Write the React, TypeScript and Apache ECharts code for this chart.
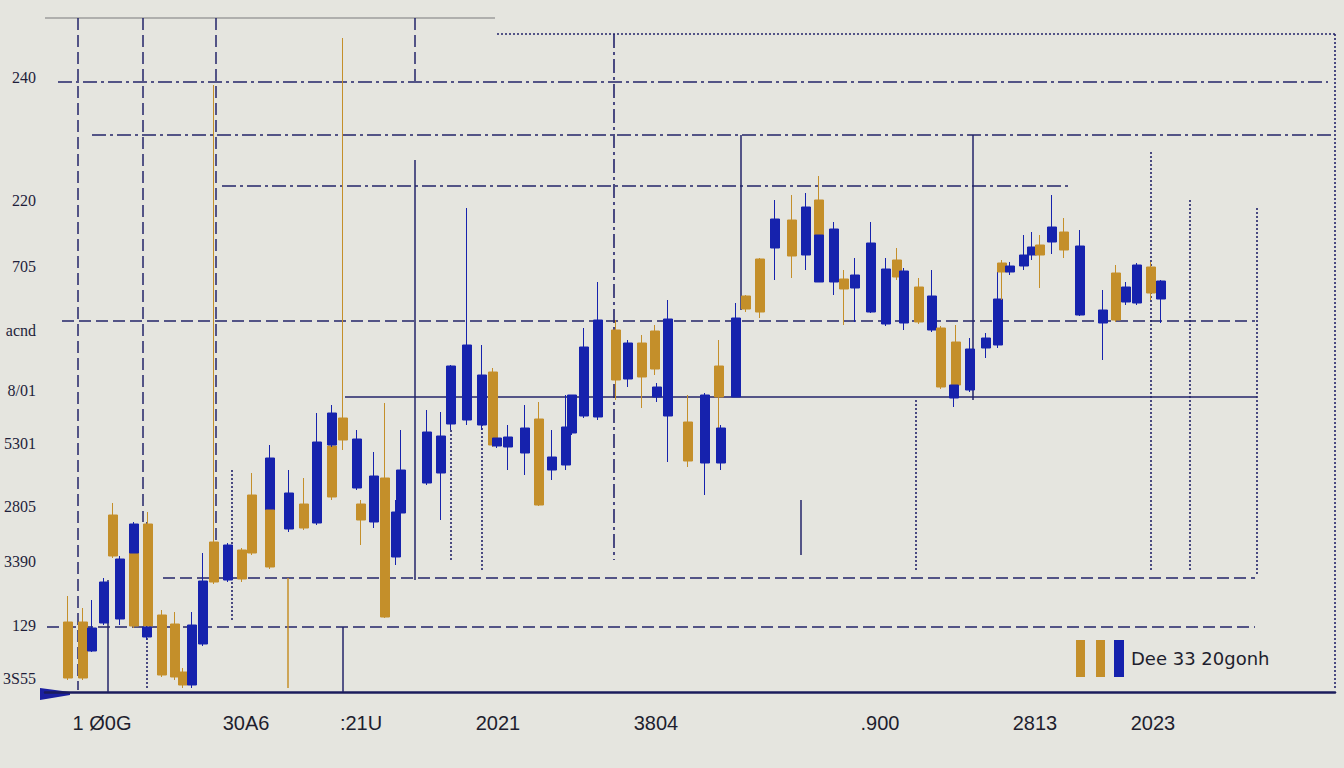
import React, { useEffect, useRef } from "react";
import * as echarts from "echarts";

// ---- candle data (x = day index, prices) ----
const days = [11.5, 19, 23.5, 29.5, 34, 37.5, 44.5, 44.5, 51.5, 51, 58.5, 65, 69, 73.5, 79, 84.5, 91.5, 98.5, 103.5, 112.5, 112.5, 122, 129.5, 136, 143.5, 143.5, 149, 156, 158, 164.5, 170, 175.5, 178, 191, 198, 203, 211, 218.5, 224, 226, 231.5, 240, 247, 253.5, 260.5, 263.5, 269.5, 276.5, 285.5, 291.5, 298.5, 305, 306, 311.5, 321.5, 330, 337, 338, 345.5, 350.5, 357.5, 365, 373.5, 380.5, 387, 387, 394.5, 399.5, 405, 413, 420.5, 426, 429.5, 437, 443.5, 448, 455.5, 454.5, 462.5, 470.5, 476.5, 478.5, 482.5, 489.5, 493.5, 497.5, 503.5, 509.5, 517.5, 529, 535.5, 540.5, 546, 553, 558];
const opens = [107, 107, 132, 155, 168, 166.5, 133, 184, 133, 132.5, 108.5, 107.5, 103.5, 133.5, 155.5, 155, 173.5, 156.5, 169.5, 217, 162.5, 199.5, 182, 225, 197.5, 239.5, 226, 226.5, 186, 208, 137.5, 190, 211, 230, 228, 263, 273.5, 258.5, 223.5, 227, 227.5, 232, 193.5, 217.5, 232.5, 248.5, 272.5, 286, 256, 274.5, 257.5, 261.5, 252.5, 286.5, 215.5, 248.5, 247.5, 232, 287, 291.5, 290, 336.5, 318, 342.5, 328.5, 328.5, 331.5, 301.5, 308.5, 324.5, 311.5, 307.5, 310.5, 285, 298, 252.5, 253.5, 253.5, 271.5, 277, 296.5, 310, 313, 318.5, 322.5, 318.5, 332.5, 321, 323, 291, 286, 302.5, 313.5, 299.5, 305.5];
const closes = [135, 135, 120.5, 134.5, 188.5, 136.5, 169.5, 169.5, 184, 127.5, 138.5, 134, 110, 103.5, 124, 175, 156, 171, 198.5, 191, 191, 181.5, 194, 184.5, 223, 223.5, 237, 202, 194, 185, 207, 167.5, 189.5, 204.5, 209.5, 234, 236, 233.5, 260, 223, 222.5, 219.5, 236.5, 211, 213.5, 229.5, 238, 237.5, 281, 256.5, 274.5, 280.5, 247.5, 238, 235, 214.5, 263, 214.5, 247.5, 298, 316.5, 322, 336, 318.5, 346, 305, 305, 306.5, 302, 290, 284, 316, 284.5, 302.5, 281, 282, 275, 247, 251, 272, 273.5, 314.5, 310, 313, 318.5, 323.5, 325, 330, 288.5, 284.5, 309.5, 295, 294.5, 312.5, 296.5];
const lows = [106, 106, 120, 133.5, 167, 133.5, 132, 169.5, 132, 126, 107.5, 106, 102, 102, 123, 154, 155, 155, 168.5, 190, 161.5, 180, 181, 183.5, 196, 222.5, 221, 201, 173.5, 182, 137, 163.5, 188.5, 203.5, 186, 231, 233.5, 231, 222.5, 222, 211, 208.5, 193, 206, 211, 228.5, 237, 236, 246, 252.5, 242, 258.5, 245, 215, 212.5, 198.5, 216, 211, 247.5, 290, 287, 306, 307, 311, 328, 305, 298.5, 283.5, 285, 289.5, 283, 306, 281, 284, 280, 251.5, 250, 242.5, 250, 267, 272, 296, 308.5, 311, 316, 302, 319, 317, 288, 266, 285, 293.5, 293.5, 296, 284.5];
const highs = [148, 142, 146, 157, 194.5, 168, 172, 185, 190, 133, 141, 140, 112, 140, 169.5, 403.5, 174.5, 172, 209.5, 223.5, 191, 211, 207, 239.5, 238.5, 243.5, 427, 231, 196, 220, 244.5, 196, 231, 241, 240, 263.5, 342, 273.5, 262, 227, 233.5, 243.5, 245, 231, 248.5, 248.5, 282, 305, 286, 276, 278.5, 283.5, 254.5, 296, 248.5, 249.5, 276, 233.5, 294.5, 298.5, 317, 346, 348.5, 349.5, 358, 328.5, 335, 311, 317, 335, 317, 322, 312, 307, 311, 283, 283.5, 253.5, 277, 279.5, 310.5, 316, 315, 328.5, 330, 328.5, 348.5, 337, 331, 301, 313.5, 305, 314.5, 315, 306];

// ---- tick labels ----
const yTickLabels = ["240", "220", "705", "acnd", "8/01", "5301", "2805", "3390", "129", "3S55"];
const yTickValues = [407.5, 346, 313, 281, 251, 224.5, 193, 165.5, 133.5, 107];
const xTickLabels = ["1 Ø0G", "30A6", ":21U", "2021", "3804", ".900", "2813", "2023"];
const xTickDays = [28.5, 100.5, 158, 226.5, 305.5, 417.5, 495, 554];
const legendText = "Dee 33 20gonh";

// ---- reference lines: [price, dayFrom, dayTo, kind] and [day, priceFrom, priceTo, kind] ----
const hLines: [number, number, number, string][] = [
  [437, 0, 225, "gray"],
  [429, 226, 645, "dot"],
  [405, 6.5, 641.5, "dashdot"],
  [378.5, 23.5, 645, "dashdot"],
  [353, 88.5, 511.5, "dashdot"],
  [285.5, 8.5, 605, "dash"],
  [247.5, 150, 606, "solid"],
  [157, 59, 605, "dash"],
  [132.5, 1, 605, "dash"],
];
const vLines: [number, number, number, string][] = [
  [16.5, 437, 101, "dash"],
  [49, 437, 185, "dash"],
  [85.5, 437, 176, "dash"],
  [185, 437, 405, "dash"],
  [185, 366, 156, "solid"],
  [284.5, 429, 166, "dashdot"],
  [348, 378.5, 291, "solid"],
  [464, 378.5, 246, "solid"],
  [553, 370, 161, "dot"],
  [572.5, 346, 161, "dot"],
  [606, 342, 158.5, "dot"],
  [645, 429, 101, "dot"],
  [31.5, 156, 100, "solid"],
  [149, 132.5, 100, "solid"],
  [121.5, 157, 102, "gold"],
  [93.5, 211, 136, "dot"],
  [51, 185, 101, "dot"],
  [378, 196, 168.5, "solid"],
  [435.5, 246, 161, "dot"],
  [203, 231, 166, "dot"],
  [218.5, 236, 161, "dot"],
];

const NAVY = "#23246a";
const GOLD = "#c48f2a";
const BLUE = "#1622ad";

function styleFor(kind: string) {
  switch (kind) {
    case "dash":
      return { color: NAVY, width: 1.5, type: [12, 5], opacity: 1 };
    case "dashdot":
      return { color: NAVY, width: 1.6, type: [14, 4, 3, 4], opacity: 1 };
    case "dot":
      return { color: NAVY, width: 1.6, type: [2, 2], opacity: 1 };
    case "gray":
      return { color: "#9c9c9c", width: 1.5, type: "solid", opacity: 1 };
    case "gold":
      return { color: GOLD, width: 1.5, type: "solid", opacity: 1 };
    default:
      return { color: NAVY, width: 1.5, type: "solid", opacity: 1 };
  }
}

export default function App() {
  const ref = useRef<HTMLDivElement>(null);
  useEffect(() => {
    const chart = echarts.init(ref.current!, null, { renderer: "svg" });
    const data = days.map((d, i) => [d, opens[i], closes[i], lows[i], highs[i]]);
    const mlData: any[] = [];
    hLines.forEach(([p, d1, d2, k]) => {
      mlData.push([{ coord: [d1, p], lineStyle: styleFor(k) }, { coord: [d2, p] }]);
    });
    vLines.forEach(([d, p1, p2, k]) => {
      mlData.push([{ coord: [d, p1], lineStyle: styleFor(k) }, { coord: [d, p2] }]);
    });
    chart.setOption({
      animation: false,
      backgroundColor: "#e5e5df",
      grid: { left: 45, right: 9, top: 12, bottom: 76 },
      xAxis: {
        type: "value",
        min: 0,
        max: 645,
        axisLine: { show: true, onZero: false, lineStyle: { color: "#1b1c5c", width: 2.5 } },
        axisTick: { show: false },
        axisLabel: { show: false },
        splitLine: { show: false },
      },
      yAxis: {
        type: "value",
        min: 100,
        max: 440,
        axisLine: { show: false },
        axisTick: { show: false },
        axisLabel: { show: false },
        splitLine: { show: false },
      },
      series: [
        {
          type: "candlestick",
          encode: { x: 0, y: [1, 2, 3, 4] },
          barWidth: 10,
          data,
          itemStyle: {
            color: GOLD,
            color0: BLUE,
            borderColor: GOLD,
            borderColor0: BLUE,
            borderWidth: 1,
          },
          markLine: {
            z: 1,
            silent: true,
            symbol: "none",
            label: { show: false },
            animation: false,
            data: mlData,
          },
        },
      ],
    });

    const toPx = (d: number, p: number) => chart.convertToPixel({ gridIndex: 0 }, [d, p]) as number[];
    const graphics: any[] = [];
    yTickValues.forEach((v, i) => {
      const pt = toPx(0, v);
      graphics.push({
        type: "text",
        x: pt[0] - 9,
        y: pt[1],
        style: {
          text: yTickLabels[i],
          textAlign: "right",
          textVerticalAlign: "middle",
          font: "16px 'Liberation Serif'",
          fill: "#1e1e3a",
        },
      });
    });
    xTickDays.forEach((d, i) => {
      const pt = toPx(d, 100);
      graphics.push({
        type: "text",
        x: pt[0],
        y: pt[1] + 31,
        style: {
          text: xTickLabels[i],
          textAlign: "center",
          textVerticalAlign: "middle",
          font: "20px 'Liberation Sans'",
          fill: "#1e1e2e",
        },
      });
    });
    // legend
    graphics.push({ type: "rect", shape: { x: 1076, y: 640, width: 9, height: 37 }, style: { fill: GOLD } });
    graphics.push({ type: "rect", shape: { x: 1096, y: 640, width: 9, height: 37 }, style: { fill: GOLD } });
    graphics.push({ type: "rect", shape: { x: 1114, y: 640, width: 10, height: 37 }, style: { fill: BLUE } });
    graphics.push({
      type: "text",
      x: 1131,
      y: 658,
      style: { text: legendText, textVerticalAlign: "middle", font: "18px 'DejaVu Sans'", fill: "#1e1e2e" },
    });
    // arrow at axis origin
    graphics.push({
      type: "polygon",
      shape: { points: [[40, 688], [70, 692], [70, 695], [40, 700]] },
      style: { fill: "#1a1fa0" },
    });
    chart.setOption({ graphic: graphics });
    return () => chart.dispose();
  }, []);
  return (
    <div
      ref={ref}
      style={{ position: "fixed", left: 0, top: 0, width: 1344, height: 768 }}
    />
  );
}
